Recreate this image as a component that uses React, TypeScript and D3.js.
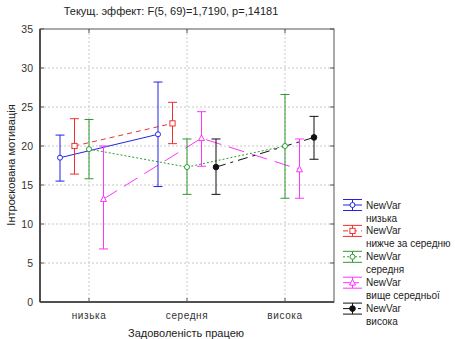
import React from "react";
import * as d3 from "d3";

const categories = ["низька", "середня", "висока"];
const seriesNames = ["низька", "нижче за середню", "середня", "вище середньої", "висока"];
const seriesColors = ["#2323e6", "#f03030", "#2f9a2f", "#ff33ff", "#111111"];
const seriesDash = ["", "5,4", "2,2", "16,8", "10,5,3,5"];
const seriesMarker = ["circle", "square", "circle", "triangle", "dot"];

const blueMean = [18.5, 21.5, null];
const redMean = [20.0, 22.9, null];
const greenMean = [19.6, 17.3, 20.0];
const magentaMean = [13.2, 21.0, 17.0];
const blackMean = [null, 17.3, 21.1];

const blueUpper = [21.4, 28.2, null];
const redUpper = [23.5, 25.6, null];
const greenUpper = [23.4, 20.9, 26.6];
const magentaUpper = [20.0, 24.4, 20.9];
const blackUpper = [null, 20.9, 23.8];

const blueLower = [15.5, 14.8, null];
const redLower = [16.4, 20.3, null];
const greenLower = [15.8, 13.8, 13.3];
const magentaLower = [6.8, 17.4, 13.3];
const blackLower = [null, 13.8, 18.3];

const yTicks = [0, 5, 10, 15, 20, 25, 30, 35];
const titleText = "Текущ. эффект: F(5, 69)=1,7190, p=,14181";
const xTitle = "Задоволеність працею";
const yTitle = "Інтроєкована мотивація";
const legendHead = "NewVar";

const means = [blueMean, redMean, greenMean, magentaMean, blackMean];
const uppers = [blueUpper, redUpper, greenUpper, magentaUpper, blackUpper];
const lowers = [blueLower, redLower, greenLower, magentaLower, blackLower];

const W = 455, H = 339;
const L = 40, R = 334, T = 29, B = 302;
const FONT = "'Liberation Sans', Arial, sans-serif";

function Marker({ kind, x, y, color }: { kind: string; x: number; y: number; color: string }) {
  if (kind === "square")
    return <rect x={x - 2.6} y={y - 2.6} width={5.2} height={5.2} fill="white" stroke={color} strokeWidth={1} />;
  if (kind === "triangle") {
    const p = `${x},${y - 3.3} ${x - 3},${y + 2.4} ${x + 3},${y + 2.4}`;
    return <polygon points={p} fill="white" stroke={color} strokeWidth={1} />;
  }
  if (kind === "dot") return <circle cx={x} cy={y} r={2.8} fill={color} stroke={color} />;
  return <circle cx={x} cy={y} r={2.5} fill="white" stroke={color} strokeWidth={1} />;
}

export default function App() {
  const x = d3.scaleBand<string>().domain(categories).range([L, R]).padding(0);
  const off = d3.scalePoint<string>().domain(seriesNames).range([-29, 29]);
  const y = d3.scaleLinear().domain([0, 35]).range([B, T]);
  const cx = (c: string) => (x(c) as number) + x.bandwidth() / 2;

  const line = d3
    .line<{ px: number; v: number | null }>()
    .defined((d) => d.v !== null)
    .x((d) => d.px)
    .y((d) => y(d.v as number));

  return (
    <svg width={W} height={H} style={{ position: "absolute", left: 0, top: 0, background: "white" }}>
      {yTicks.filter((t) => t > 0 && t < 35).map((t) => (
        <line key={"gy" + t} x1={L} x2={R} y1={y(t)} y2={y(t)} stroke="#c8c8c8" strokeDasharray="2,2" strokeWidth={1} />
      ))}
      {categories.map((c) => (
        <line key={"gx" + c} x1={cx(c)} x2={cx(c)} y1={T} y2={B} stroke="#c8c8c8" strokeDasharray="2,2" strokeWidth={1} />
      ))}
      <rect x={L} y={T} width={R - L} height={B - T} fill="none" stroke="#555" strokeWidth={1} />
      <line x1={L} x2={L} y1={T} y2={B} stroke="#333" strokeWidth={1.5} />
      <line x1={L} x2={R} y1={B} y2={B} stroke="#333" strokeWidth={1.5} />
      {yTicks.map((t) => (
        <g key={"ty" + t}>
          <line x1={L} x2={L + 4} y1={y(t)} y2={y(t)} stroke="#555" />
          <line x1={R - 4} x2={R} y1={y(t)} y2={y(t)} stroke="#555" />
          <text x={33} y={y(t)} dy="0.35em" textAnchor="end" fontFamily={FONT} fontSize={10.5} fill="#333">
            {t}
          </text>
        </g>
      ))}
      {categories.map((c) => (
        <g key={"tx" + c}>
          <line x1={cx(c)} x2={cx(c)} y1={B} y2={B - 4} stroke="#555" />
          <line x1={cx(c)} x2={cx(c)} y1={T} y2={T + 4} stroke="#555" />
          <text x={cx(c)} y={319} textAnchor="middle" fontFamily={FONT} fontSize={10} letterSpacing={0.6} fill="#333">
            {c}
          </text>
        </g>
      ))}
      {seriesNames.map((s, i) => {
        const pts = categories.map((c, j) => ({ px: cx(c) + (off(s) as number), v: means[i][j] }));
        return (
          <path key={"l" + s} d={line(pts) || ""} fill="none" stroke={seriesColors[i]} strokeWidth={1} strokeDasharray={seriesDash[i]} />
        );
      })}
      {seriesNames.map((s, i) =>
        categories.map((c, j) => {
          const m = means[i][j];
          if (m === null) return null;
          const px = cx(c) + (off(s) as number);
          const hi = y(uppers[i][j] as number);
          const lo = y(lowers[i][j] as number);
          return (
            <g key={"e" + s + c}>
              <line x1={px} x2={px} y1={hi} y2={lo} stroke={seriesColors[i]} strokeWidth={1} />
              <line x1={px - 4.5} x2={px + 4.5} y1={hi} y2={hi} stroke={seriesColors[i]} strokeWidth={1} />
              <line x1={px - 4.5} x2={px + 4.5} y1={lo} y2={lo} stroke={seriesColors[i]} strokeWidth={1} />
              <Marker kind={seriesMarker[i]} x={px} y={y(m)} color={seriesColors[i]} />
            </g>
          );
        })
      )}
      <text x={171} y={15} textAnchor="middle" fontFamily={FONT} fontSize={11} fill="#222">
        {titleText}
      </text>
      <text x={186} y={337} textAnchor="middle" fontFamily={FONT} fontSize={11} fill="#222">
        {xTitle}
      </text>
      <text transform="translate(15,165) rotate(-90)" textAnchor="middle" fontFamily={FONT} fontSize={11} fill="#222">
        {yTitle}
      </text>
      {seriesNames.map((s, i) => {
        const ry = 205 + i * 25.9;
        const c = seriesColors[i];
        return (
          <g key={"lg" + s}>
            <line x1={343} x2={362} y1={ry - 5.5} y2={ry - 5.5} stroke={c} />
            <line x1={343} x2={362} y1={ry + 5.5} y2={ry + 5.5} stroke={c} />
            <line x1={352.5} x2={352.5} y1={ry - 5.5} y2={ry + 5.5} stroke={c} />
            <line x1={343} x2={362} y1={ry} y2={ry} stroke={c} strokeDasharray={seriesDash[i]} />
            <Marker kind={seriesMarker[i]} x={352.5} y={ry} color={c} />
            <text x={366} y={ry} dy="0.35em" fontFamily={FONT} fontSize={10} fill="#222">
              {legendHead}
            </text>
            <text x={366} y={ry + 13} dy="0.35em" fontFamily={FONT} fontSize={10} fill="#222">
              {s}
            </text>
          </g>
        );
      })}
    </svg>
  );
}
